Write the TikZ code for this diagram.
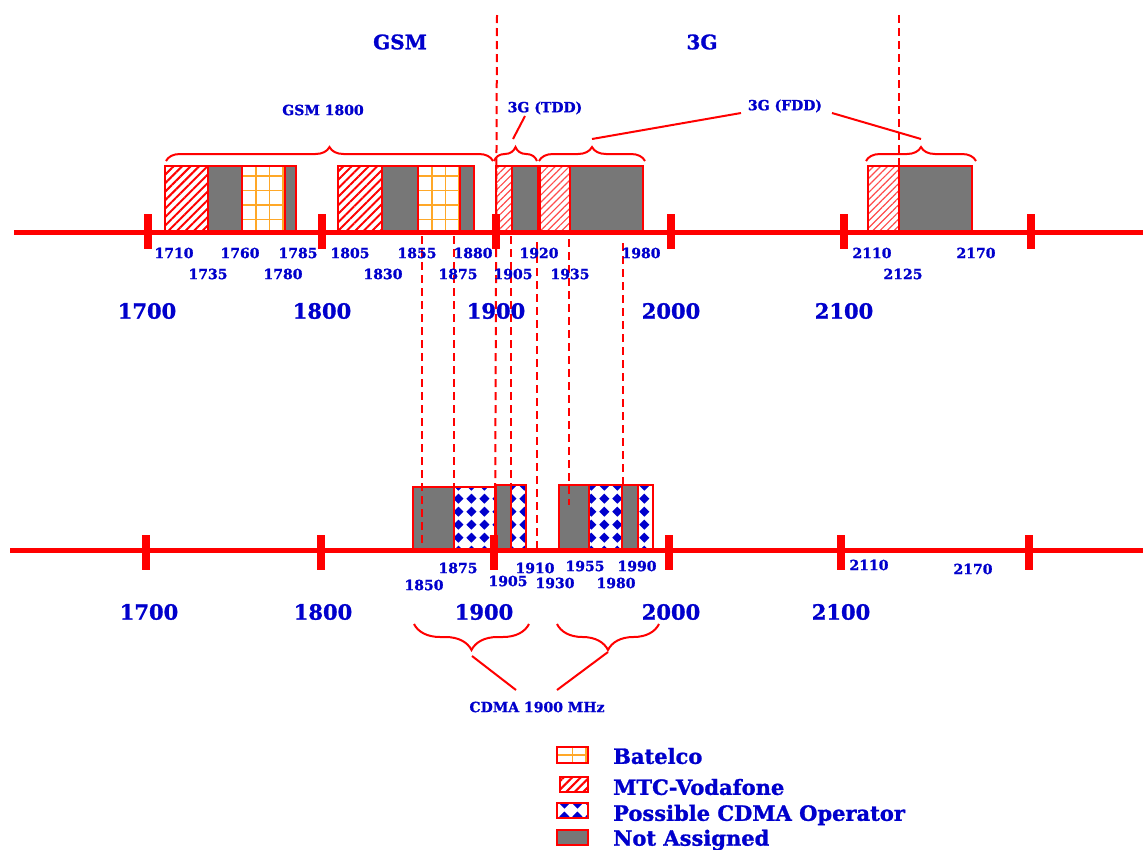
\documentclass[tikz,border=0pt]{standalone}
\usepackage{fontspec}
\setmainfont{DejaVu Serif}[BoldFeatures={FakeBold=1.2}]
\usetikzlibrary{decorations.pathreplacing,patterns.meta}
\definecolor{lblue}{RGB}{0,0,204}
\definecolor{sred}{RGB}{255,0,0}
\definecolor{sgray}{RGB}{119,119,119}
\definecolor{sorange}{RGB}{255,168,40}
\tikzdeclarepattern{
  name=cdmadiamonds,
  type=uncolored,
  bounding box={(0pt,0pt) and (13.3pt,13.3pt)},
  tile size={(13.3pt,13.3pt)},
  code={\fill (6.65pt,1.4pt) -- (11.9pt,6.65pt) -- (6.65pt,11.9pt) -- (1.4pt,6.65pt) -- cycle;}
}
\newcommand\gridfill[6]{% x1 y1 x2 y2 xstep ystep (first line offsets)
  \begin{scope}
    \clip (#1,#2) rectangle (#3,#4);
    \foreach \k in {0,...,5} {
      \draw[sorange, line width=1.6pt] ({#1+#5+13.5*\k},#2) -- ({#1+#5+13.5*\k},#4);
      \draw[sorange, line width=1.6pt] (#1,{#2+#6+14.5*\k}) -- (#3,{#2+#6+14.5*\k});
    }
  \end{scope}
  \draw[sred, line width=2pt] (#1,#2) rectangle (#3,#4);
}
\tikzset{
  axisline/.style={draw=sred, line width=5pt},
  axtick/.style={draw=sred, line width=8pt},
  sm/.style={text=lblue, inner sep=0pt, font=\bfseries\fontsize{14}{16}\selectfont},
  bg/.style={text=lblue, inner sep=0pt, font=\bfseries\fontsize{21}{24}\selectfont},
  hd/.style={text=lblue, inner sep=0pt, font=\bfseries\fontsize{20}{24}\selectfont},
  lg/.style={text=lblue, inner sep=0pt, anchor=west, font=\bfseries\fontsize{21}{24}\selectfont},
  na/.style={fill=sgray, draw=sred, line width=2pt},
  mtc/.style={draw=sred, line width=2pt, pattern={Lines[angle=45,distance=6pt,line width=2pt]}, pattern color=sred},
  mtcl/.style={draw=sred, line width=2pt, pattern={Lines[angle=45,distance=5pt,line width=1.2pt]}, pattern color=sred!70},
  cdma/.style={draw=sred, line width=2pt, pattern=cdmadiamonds, pattern color=lblue},
  vdash/.style={draw=sred, line width=2pt, dash pattern=on 8pt off 5pt},
  brc/.style={draw=sred, line width=2pt, decorate, decoration={brace, amplitude=14pt}},
  brcb/.style={draw=sred, line width=2pt, decorate, decoration={brace, amplitude=26pt}},
  lnk/.style={draw=sred, line width=2pt},
}
\begin{document}
\begin{tikzpicture}[x=1pt,y=-1pt]
\useasboundingbox[fill=white] (0,0) rectangle (1143,849);

% ---------- top band ----------
\draw[mtc] (165,166) rectangle (208,231);
\draw[na]  (208,166) rectangle (242,231);
\gridfill{242}{166}{285}{231}{14}{10}
\draw[na]  (285,166) rectangle (296,231);
\draw[mtc] (338,166) rectangle (382,231);
\draw[na]  (382,166) rectangle (418,231);
\gridfill{418}{166}{460}{231}{14}{10}
\draw[na]  (460,166) rectangle (474,231);
\draw[mtcl] (496,166) rectangle (512,231);
\draw[na]   (512,166) rectangle (538,231);
\draw[mtcl] (540,166) rectangle (570,231);
\draw[na]   (570,166) rectangle (643,231);
\draw[mtcl] (868,166) rectangle (899,231);
\draw[na]   (899,166) rectangle (972,231);

\draw[axisline] (14,232) -- (1143,232);
\foreach \x in {148,322,496,671,844,1031} \draw[axtick] (\x,214) -- (\x,249);

% ---------- bottom band ----------
\draw[na]   (413,487) rectangle (454,549);
\draw[cdma] (454,487) rectangle (495,549);
\draw[na]   (496,485) rectangle (511,549);
\draw[cdma] (511,485) rectangle (526,549);
\draw[na]   (559,485) rectangle (589,549);
\draw[cdma] (589,485) rectangle (622,549);
\draw[na]   (622,485) rectangle (638,549);
\draw[cdma] (638,485) rectangle (653,549);

\draw[axisline] (10,550) -- (1143,550);
\foreach \x in {146,321,494,669,841,1029} \draw[axtick] (\x,535) -- (\x,570);

% ---------- dashed guides ----------
\draw[vdash] (497,15) -- (495,548);
\draw[vdash] (899,15) -- (899,166);
\draw[vdash] (422,236) -- (422,545);
\draw[vdash] (454,236) -- (454,545);
\draw[vdash] (511,236) -- (511,548);
\draw[vdash] (537,242) -- (537,548);
\draw[vdash] (569,239) -- (569,505);
\draw[vdash] (623,243) -- (623,486);

% ---------- headings ----------
\node[hd] (gsm) at (400,42) {GSM};
\node[hd] (threeg) at (702,42) {3G};

% ---------- top braces ----------
\draw[brc] (166,161) -- (493,161);
\draw[brc] (494,161) -- (537,161);
\draw[brc] (539,161) -- (645,161);
\draw[brc] (866,161) -- (976,161);
\node[sm] (gsm1800) at (323,110) {GSM 1800};
\node[sm] (tdd) at (545,108) {3G (TDD)};
\node[sm] (fdd) at (785,106) {3G (FDD)};
\coordinate (tddtip) at (513,139);
\coordinate (tddend) at (525,116);
\coordinate (fddtipa) at (592,139);
\coordinate (fddenda) at (741,113);
\coordinate (fddendb) at (832,113);
\coordinate (fddtipb) at (921,139);
\draw[lnk] (tddtip) -- (tddend);
\draw[lnk] (fddtipa) -- (fddenda);
\draw[lnk] (fddendb) -- (fddtipb);

% ---------- top labels ----------
\node[sm] (a1710) at (174,253) {1710};
\node[sm] (a1760) at (240,253) {1760};
\node[sm] (a1785) at (298,253) {1785};
\node[sm] (a1805) at (350,253) {1805};
\node[sm] (a1855) at (417,253) {1855};
\node[sm] (a1880) at (473,253) {1880};
\node[sm] (a1920) at (539,253) {1920};
\node[sm] (a1980) at (641,253) {1980};
\node[sm] (a2110) at (872,253) {2110};
\node[sm] (a2170) at (976,253) {2170};
\node[sm] (a1735) at (208,274) {1735};
\node[sm] (a1780) at (283,274) {1780};
\node[sm] (a1830) at (383,274) {1830};
\node[sm] (a1875) at (458,274) {1875};
\node[sm] (a1905) at (513,274) {1905};
\node[sm] (a1935) at (570,274) {1935};
\node[sm] (a2125) at (903,274) {2125};

\node[bg] (b1700) at (147,311) {1700};
\node[bg] (b1800) at (322,311) {1800};
\node[bg] (b1900) at (496,311) {1900};
\node[bg] (b2000) at (671,311) {2000};
\node[bg] (b2100) at (844,311) {2100};

% ---------- bottom labels ----------
\node[sm] (c1850) at (424,585) {1850};
\node[sm] (c1875) at (458,568) {1875};
\node[sm] (c1905) at (508,581) {1905};
\node[sm] (c1910) at (535,568) {1910};
\node[sm] (c1930) at (555,583) {1930};
\node[sm] (c1955) at (585,566) {1955};
\node[sm] (c1980) at (616,583) {1980};
\node[sm] (c1990) at (637,566) {1990};
\node[sm] (c2110) at (869,565) {2110};
\node[sm] (c2170) at (973,569) {2170};

\node[bg] (d1700) at (149,612) {1700};
\node[bg] (d1800) at (323,612) {1800};
\node[bg] (d1900) at (484,612) {1900};
\node[bg] (d2000) at (671,612) {2000};
\node[bg] (d2100) at (841,612) {2100};

% ---------- bottom braces ----------
\draw[brcb] (529,624) -- (414,624);
\draw[brcb] (659,624) -- (557,624);
\node[sm] (cdmalbl) at (537,707) {CDMA 1900 MHz};
\coordinate (btipa) at (472,656);
\coordinate (benda) at (516,690);
\coordinate (bendb) at (557,690);
\coordinate (btipb) at (608,652);
\draw[lnk] (btipa) -- (benda);
\draw[lnk] (bendb) -- (btipb);

% ---------- legend ----------
\gridfill{557}{747}{588}{763}{15.5}{8}
\draw[mtc]  (560,777) rectangle (588,792);
\draw[cdma] (557,803) rectangle (588,818);
\draw[na]   (557,830) rectangle (588,845);
\node[lg] (lbat) at (613,756) {Batelco};
\node[lg] (lmtc) at (613,787) {MTC-Vodafone};
\node[lg] (lcdma) at (613,815) {Possible CDMA Operator};
\node[lg] (lna) at (613,840) {Not Assigned};
\end{tikzpicture}
\end{document}
